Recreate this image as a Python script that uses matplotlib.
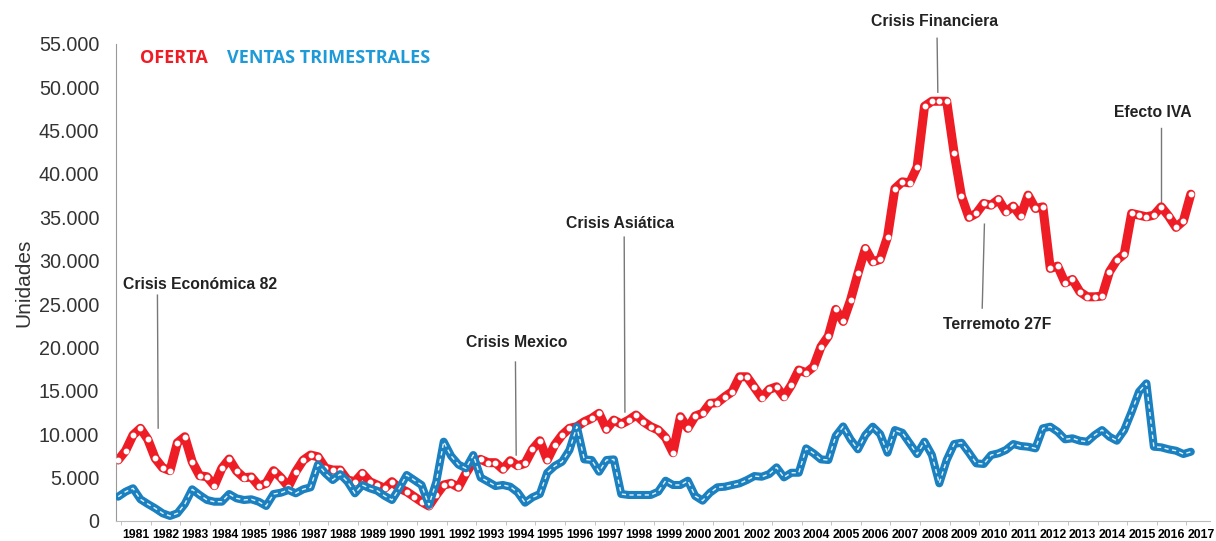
import numpy as np
import matplotlib.pyplot as plt
from matplotlib.ticker import FuncFormatter

# Quarterly series, 1981 onwards
oferta = [7030, 8100, 9900, 10680, 9410, 7220, 6140, 5800, 9020, 9710,
          6830, 5220, 5100, 4070, 6070, 7140, 5760, 4990, 5070, 4030,
          4340, 5800, 4990, 3950, 5680, 7000, 7600, 7400, 6100, 5870,
          5870, 4720, 4530, 5490, 4530, 4150, 3770, 4530, 3770, 3380,
          2800, 2220, 1730, 3000, 4150, 4340, 3880, 5490, 6830, 7100,
          6720, 6720, 5960, 6950, 6370, 6640, 8260, 9250, 7030, 8760,
          9900, 10680, 10870, 11440, 11830, 12410, 10560, 11630, 11170, 11630,
          12210, 11440, 10870, 10480, 9600, 7870, 12020, 10680, 12100, 12410,
          13560, 13630, 14320, 14900, 16620, 16620, 15400, 14200, 15170, 15470,
          14320, 15670, 17400, 17090, 17780, 20080, 21310, 24390, 23000, 25460,
          28530, 31410, 29870, 30150, 32750, 38320, 39090, 38970, 40810, 47800,
          48380, 48380, 48380, 42430, 37440, 34990, 35450, 36600, 36400, 37060,
          35630, 36290, 35140, 37560, 36020, 36210, 29110, 29380, 27450, 27840,
          26420, 25840, 25840, 25920, 28720, 30070, 30760, 35450, 35250, 35060,
          35250, 36210, 35140, 33840, 34590, 37670]

ventas = [2800, 3380, 3770, 2500, 1960, 1460, 890, 580, 890, 1960,
          3650, 3000, 2420, 2220, 2220, 3110, 2610, 2420, 2500, 2220,
          1730, 3110, 3260, 3570, 3190, 3650, 3880, 6500, 5500, 4720,
          5400, 4530, 3190, 4150, 3770, 3490, 2900, 2420, 3770, 5300,
          4720, 4150, 1840, 4500, 9140, 7500, 6500, 6070, 7600, 5000,
          4530, 4030, 4150, 3950, 3300, 2110, 2730, 3110, 5560, 6340,
          6830, 8180, 10870, 7100, 7030, 5680, 7030, 7100, 3110, 3000,
          3000, 3000, 3000, 3380, 4640, 4150, 4150, 4640, 2880, 2340,
          3260, 3880, 3950, 4150, 4340, 4720, 5180, 5100, 5410, 6180,
          5030, 5560, 5560, 8370, 7800, 7100, 7030, 9800, 10900, 9410,
          8260, 9900, 10870, 10020, 7870, 10480, 10170, 8950, 7720, 9140,
          7600, 4340, 7030, 8870, 9020, 7870, 6640, 6570, 7600, 7800,
          8180, 8870, 8640, 8560, 8370, 10680, 10870, 10290, 9410, 9530,
          9250, 9140, 9900, 10480, 9710, 9250, 10480, 12590, 14900, 15860,
          8560, 8490, 8260, 8100, 7720, 7980]

years = list(range(1981, 2018))

# (text, text x, text y, line x0, line y0, line x1, line y1)
eventos = [
    ("Crisis Económica 82", 11.1, 27300, 5.3, 26030, 5.4, 10710),
    ("Crisis Mexico", 53.8, 20620, 53.7, 18320, 53.8, 7600),
    ("Crisis Asiática", 67.8, 34330, 68.4, 32720, 68.5, 12560),
    ("Crisis Financiera", 110.3, 57600, 110.7, 55640, 110.8, 49420),
    ("Terremoto 27F", 118.8, 22690, 117.1, 34210, 116.8, 24540),
    ("Efecto IVA", 139.9, 47120, 141.0, 45270, 141.0, 36630),
]

RED = '#ee1c25'
BLUE = '#1a80c0'

fig = plt.figure(figsize=(12.16, 5.41), dpi=100)
ax = fig.add_axes([0.0954, 0.037, 0.8997, 0.882])

x = np.arange(len(oferta))
ax.plot(x, oferta, color=RED, lw=6.5, solid_joinstyle='round',
        solid_capstyle='round', zorder=2)
ax.plot(x, oferta, ls='none', marker='o', ms=3.2, mfc='white', mec='white',
        zorder=3)

xv = np.arange(len(ventas))
ax.plot(xv, ventas, color=BLUE, lw=5.8, solid_joinstyle='round',
        solid_capstyle='round', zorder=4)
ax.plot(xv, ventas, color='white', lw=1.0, dashes=(3, 2.5), alpha=0.9,
        zorder=5)

ax.set_xlim(-0.3, 147.6)
ax.set_ylim(0, 55000)

ax.set_yticks(np.arange(0, 55001, 5000))
ax.yaxis.set_major_formatter(FuncFormatter(lambda v, p: f"{int(v):,}".replace(',', '.')))
ax.tick_params(axis='y', length=0, pad=12, labelsize=14.2, labelcolor='#333333')
for lab in ax.get_yticklabels():
    lab.set_family('Liberation Sans')

ax.set_xticks(np.arange(len(years)) * 4 + 2.4)
ax.set_xticklabels([str(y) for y in years], fontsize=8.8, fontweight='bold',
                   family='Liberation Sans')
ax.set_xticks(np.arange(0, 148, 4) + 0.4, minor=True)
ax.tick_params(axis='x', which='major', length=0, pad=6)
ax.tick_params(axis='x', which='minor', length=3, color='#bbbbbb')

ax.set_ylabel('Unidades', fontsize=15, family='Liberation Sans',
              color='#333333', labelpad=4)

for side in ['top', 'right']:
    ax.spines[side].set_visible(False)
ax.spines['left'].set_color('#999999')
ax.spines['bottom'].set_color('#bbbbbb')

# Series names as coloured text
ax.text(2.97, 53340, 'OFERTA', color=RED, fontsize=13, fontweight='bold',
        family='Open Sans', va='center', ha='left')
ax.text(14.7, 53340, 'VENTAS TRIMESTRALES', color='#1f9ad8', fontsize=13,
        fontweight='bold', family='Open Sans', va='center', ha='left')

for txt, tx, ty, x0, y0, x1, y1 in eventos:
    ax.plot([x0, x1], [y0, y1], color='#777777', lw=1, clip_on=False, zorder=1)
    ax.text(tx, ty, txt, fontsize=11.3, fontweight='bold', color='#222222',
            family='Liberation Sans', ha='center', va='center', clip_on=False)

fig.savefig('out.png', dpi=100)
